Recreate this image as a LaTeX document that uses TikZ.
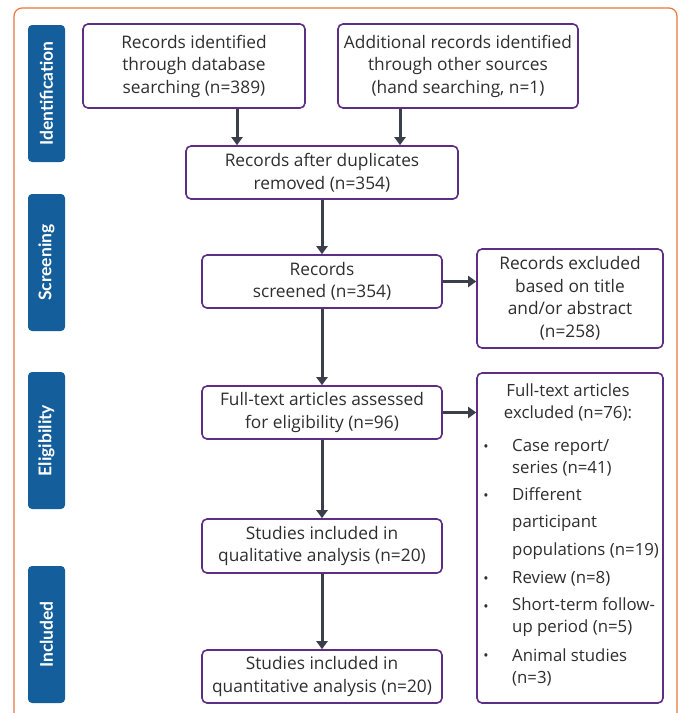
\documentclass[tikz,border=0pt]{standalone}
\usepackage{fontspec}
\setmainfont{Open Sans}
\newfontfamily\stagefont{Lato}
\usetikzlibrary{arrows.meta}

\definecolor{frameorange}{HTML}{E8763E}
\definecolor{stageblue}{HTML}{135E9B}
\definecolor{boxpurple}{HTML}{5E2E84}
\definecolor{arrowgray}{HTML}{3A3F4B}
\definecolor{textgray}{HTML}{2E2E2E}

\tikzset{
  stage/.style={fill=stageblue, rounded corners=4pt, rotate=90, inner sep=0pt,
    minimum width=137pt, minimum height=37pt, text=white,
    font=\stagefont\fontsize{17.5}{18}\selectfont\bfseries},
  box/.style={draw=boxpurple, line width=1.6pt, rounded corners=5pt, fill=white,
    text=textgray, align=center, inner sep=0pt,
    font=\fontsize{17.3}{22.5}\selectfont},
  item/.style={anchor=west, align=left, inner sep=0pt, text=textgray,
    font=\fontsize{16.8}{22}\selectfont},
  dot/.style={inner sep=0pt, text=textgray, font=\fontsize{14}{14}\selectfont},
  flow/.style={draw=arrowgray, line width=3pt, -{Triangle[width=11pt,length=8pt]}},
}

\begin{document}
\begin{tikzpicture}[x=1pt,y=-1pt]
\useasboundingbox (0,0) rectangle (679,713);
\clip (0,0) rectangle (679,713);

% The frame
\draw[frameorange, line width=1.2pt, rounded corners=8pt] (14,740) -- (14,8) -- (677,8) -- (677,740);

% The stages
\node[stage] (identification) at (46.5,93.5)  {Identification};
\node[stage] (screening)      at (46.5,262.5) {Screening};
\node[stage] (eligibility)    at (46.5,440.5) {Eligibility};
\node[stage] (included)       at (46.5,634.5) {Included};

% The boxes
\node[box, minimum width=222pt, minimum height=84pt] (database) at (194,66)
  {Records identified\\through database\\searching (n=389)};
\node[box, minimum width=240pt, minimum height=84pt] (other) at (458,66)
  {Additional records identified\\through other sources\\(hand searching, n=1)};
\node[box, minimum width=272pt, minimum height=53pt] (duplicates) at (322,172.5)
  {Records after duplicates\\removed (n=354)};
\node[box, minimum width=240pt, minimum height=53pt] (screened) at (322,281.5)
  {Records\\screened (n=354)};
\node[box, minimum width=186pt, minimum height=99pt] (excluded) at (570,298.5)
  {Records excluded\\based on title\\and/or abstract\\(n=258)};
\node[box, minimum width=240pt, minimum height=53pt] (fulltext) at (322,412.5)
  {Full-text articles assessed\\for eligibility (n=96)};
\node[box, minimum width=186pt, minimum height=330pt] (ftexcluded) at (570,538) {};
\node[box, minimum width=240pt, minimum height=54pt] (qualitative) at (322,546)
  {Studies included in\\qualitative analysis (n=20)};
\node[box, minimum width=240pt, minimum height=53pt] (quantitative) at (322,676.5)
  {Studies included in\\quantitative analysis (n=20)};

% The reasons for exclusion
\node[item, anchor=center, align=center] (fthead) at (568,402)
  {Full-text articles\\excluded (n=76):};
\node[item] (case)    at (512,457.5) {Case report/\\series (n=41)};
\node[item] (popul)   at (512,523.5) {Different\\[5.5pt]participant\\[5.5pt]populations (n=19)};
\node[item] (review)  at (512,579)   {Review (n=8)};
\node[item] (short)   at (512,617.5) {Short-term follow-\\up period (n=5)};
\node[item] (animal)  at (512,667)   {Animal studies\\(n=3)};
\foreach \y [count=\i] in {448,497,580,608,657}
  \node[dot] (bullet\i) at (486,\y) {•};

% The arrows
\draw[flow] ([xshift=43pt]database.south) -- ([xshift=43pt]database.south |- duplicates.north);
\draw[flow] ([xshift=-58pt]other.south) -- ([xshift=-58pt]other.south |- duplicates.north);
\draw[flow] (duplicates) -- (screened);
\draw[flow] (screened) -- (fulltext);
\draw[flow] (fulltext) -- (qualitative);
\draw[flow] (qualitative) -- (quantitative);
\draw[flow] (screened.east) -- (screened.east -| excluded.west);
\draw[flow] (fulltext.east) -- (fulltext.east -| ftexcluded.west);
\end{tikzpicture}
\end{document}
